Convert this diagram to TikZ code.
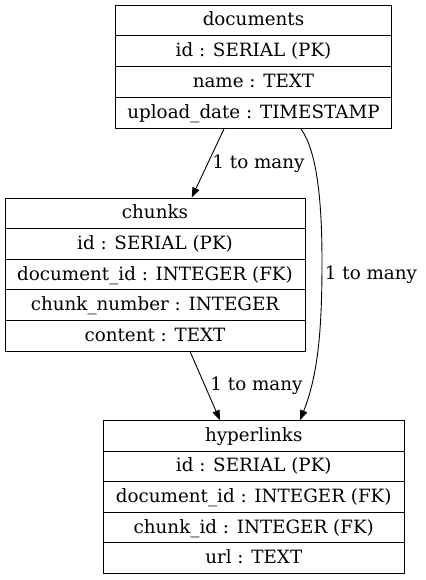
\documentclass[tikz,border=0pt]{standalone}
\usepackage{fontspec}
\setmainfont{DejaVu Serif}
\usetikzlibrary{arrows.meta}
\tikzset{
  rowbox/.style={draw=black, line width=0.9pt, inner sep=0pt, anchor=center,
    font=\fontsize{18.3}{22}\selectfont, text height=14.5pt, text depth=3.5pt},
  docrow/.style={rowbox, minimum width=276pt, minimum height=30.875pt},
  chkrow/.style={rowbox, minimum width=300pt, minimum height=30.6pt},
  hyprow/.style={rowbox, minimum width=300.5pt, minimum height=30.52pt},
  elabel/.style={inner sep=0pt, font=\fontsize{18.3}{22}\selectfont, text height=14.5pt, text depth=3.5pt},
  rel/.style={draw=black, line width=0.9pt, -{Triangle[length=10pt,width=7.5pt]}}
}
\begin{document}
\begin{tikzpicture}[x=1pt,y=1pt]
\useasboundingbox (0,0) rectangle (425,-580);
% documents
\node[docrow] (doc0) at (253.5,-20.44) {documents};
\node[docrow] (doc1) at (253.5,-51.31) {id : SERIAL (PK)};
\node[docrow] (doc2) at (253.5,-82.19) {name : TEXT};
\node[docrow] (doc3) at (253.5,-113.06) {upload\_date : TIMESTAMP};
% chunks
\node[chkrow] (chk0) at (155,-213.3) {chunks};
\node[chkrow] (chk1) at (155,-243.9) {id : SERIAL (PK)};
\node[chkrow] (chk2) at (155,-274.5) {document\_id : INTEGER (FK)};
\node[chkrow] (chk3) at (155,-305.1) {chunk\_number : INTEGER};
\node[chkrow] (chk4) at (155,-335.7) {content : TEXT};
% hyperlinks
\node[hyprow] (hyp0) at (253.75,-435.96) {hyperlinks};
\node[hyprow] (hyp1) at (253.75,-466.48) {id : SERIAL (PK)};
\node[hyprow] (hyp2) at (253.75,-497.0) {document\_id : INTEGER (FK)};
\node[hyprow] (hyp3) at (253.75,-527.52) {chunk\_id : INTEGER (FK)};
\node[hyprow] (hyp4) at (253.75,-558.04) {url : TEXT};
% relations
\draw[rel] ([xshift=-29.5pt]doc3.south) -- ([xshift=36.7pt]chk0.north);
\node[elabel] (l1) at (258.5,-162.5) {1 to many};
\draw[rel] ([xshift=47.5pt]doc3.south) .. controls (316,-150) and (322,-195) .. (322,-262)
  .. controls (322,-330) and (318,-375) .. ([xshift=46.25pt]hyp0.north);
\node[elabel] (l2) at (371,-274) {1 to many};
\draw[rel] ([xshift=35pt]chk4.south) -- ([xshift=-33.75pt]hyp0.north);
\node[elabel] (l3) at (256.5,-385) {1 to many};
\end{tikzpicture}
\end{document}
